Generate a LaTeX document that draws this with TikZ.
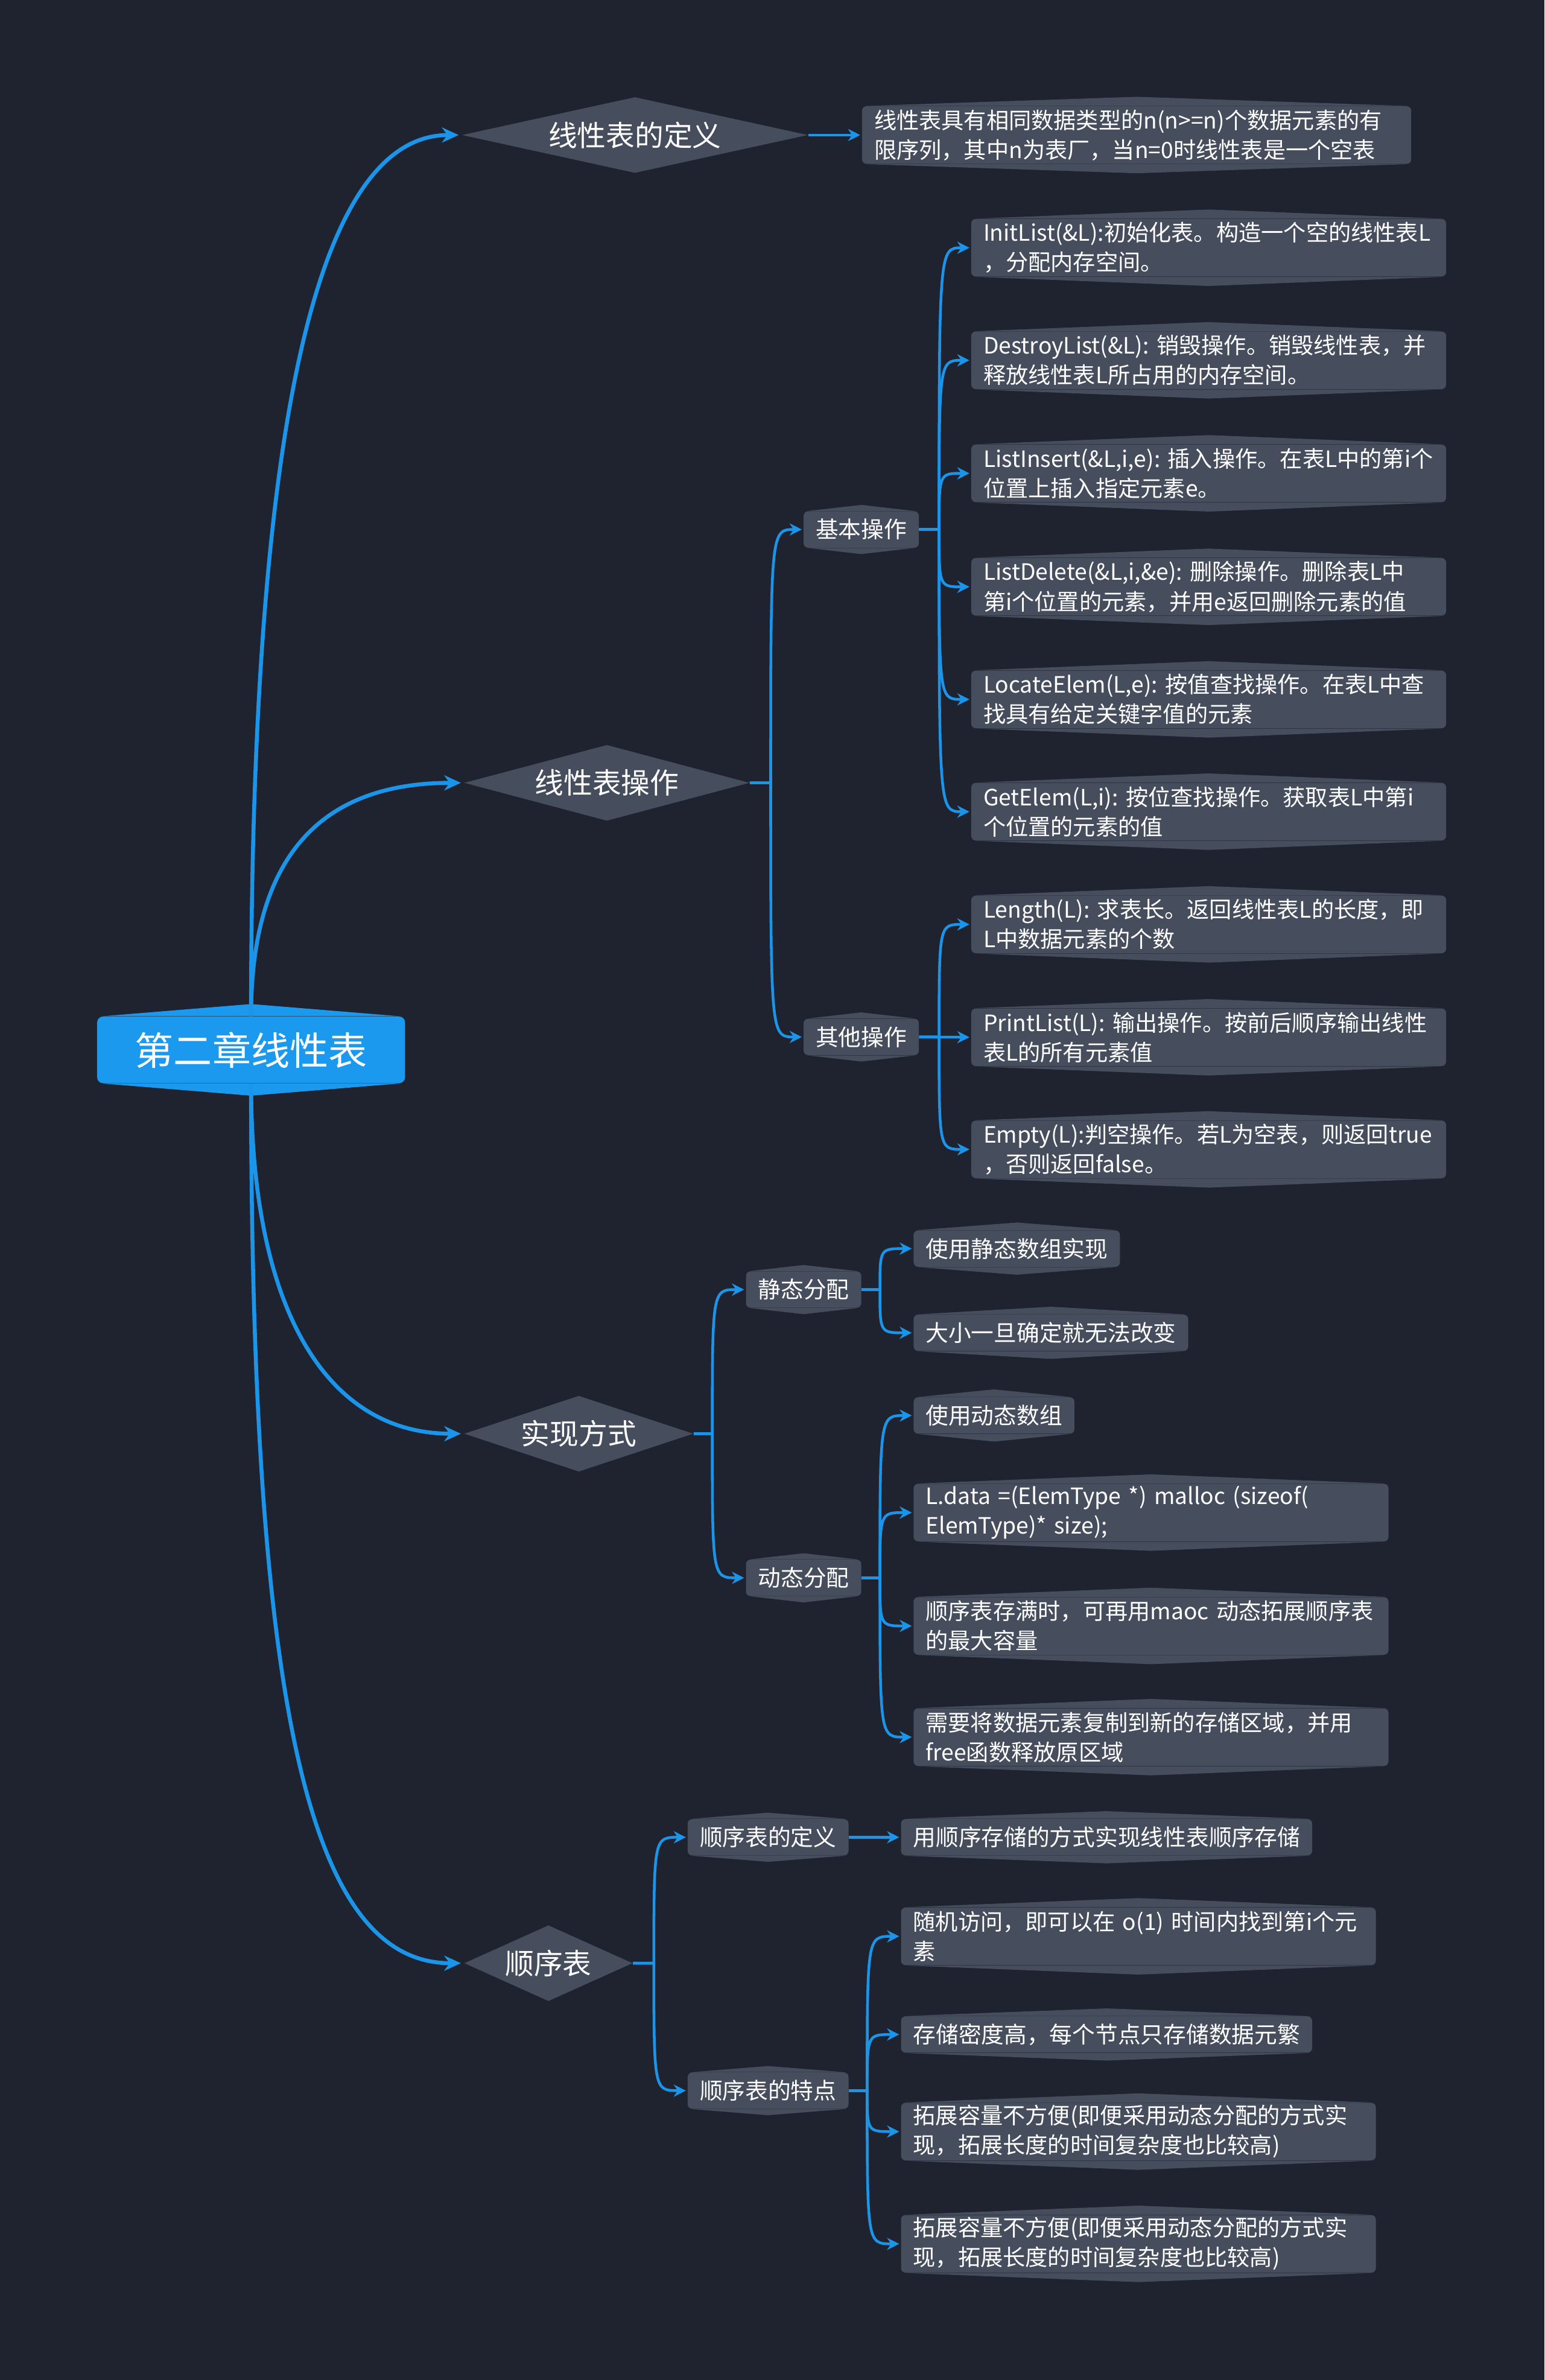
\documentclass[tikz,border=0pt]{standalone}
\usepackage{fontspec}
\setmainfont{Noto Sans CJK SC}
\usepackage{tikz}
\usetikzlibrary{arrows.meta, shapes.geometric}

\definecolor{bgcol}{HTML}{1F2330}
\definecolor{boxcol}{HTML}{464D5D}
\definecolor{linecol}{HTML}{1B95E9}
\definecolor{rootcol}{HTML}{1A99EF}

\begin{document}
\begin{tikzpicture}[
  x=1pt, y=-1pt,
  > = {Stealth[length=8pt, width=8pt]},
  every node/.style={text=white, inner sep=0pt},
  root/.style={fill=rootcol, rounded corners=4pt, minimum width=203pt,
               minimum height=44pt, font=\fontsize{25.5}{30}\selectfont},
  topic/.style={diamond, fill=boxcol, minimum height=50pt,
                font=\fontsize{19}{23}\selectfont},
  sub/.style={fill=boxcol, rounded corners=3pt, minimum height=24pt,
              inner xsep=8pt, font=\fontsize{15}{18}\selectfont},
  leaf/.style={sub, anchor=west},
  leaftwo/.style={leaf, minimum height=38pt, text width=297pt, align=left,
                  font=\fontsize{14.8}{19.5}\selectfont},
  link/.style={-{Stealth[length=11pt, width=10pt]}, draw=linecol,
               line width=2.6pt, shorten >=2pt},
  branch/.style={->, draw=linecol, line width=1.8pt, shorten >=1pt}
]
  % --- background ---
  \fill[bgcol] (0,0) rectangle (1018,1568.75);
  \useasboundingbox (0,0) rectangle (1018,1568.75);

  % --- root and main topics ---
  \node[root] (root) at (165.5,692) {第二章线性表};
  \node[topic, aspect=4.56, minimum width=228pt] (def)  at (418.5,89)   {线性表的定义};
  \node[topic, aspect=3.76, minimum width=188pt] (ops)  at (400,516)    {线性表操作};
  \node[topic, aspect=3.02, minimum width=151pt] (impl) at (381.5,945)  {实现方式};
  \node[topic, aspect=2.22, minimum width=111pt] (seq)  at (361.5,1294) {顺序表};

  % --- second level ---
  \node[sub] (basic)   at (567.7,349)   {基本操作};
  \node[sub] (other)   at (567.7,683.5) {其他操作};
  \node[sub] (static)  at (529.7,850)   {静态分配};
  \node[sub] (dyn)     at (529.7,1040)  {动态分配};
  \node[sub] (seqdef)  at (506.3,1211)  {顺序表的定义};
  \node[sub] (seqfeat) at (506.3,1378)  {顺序表的特点};

  % --- definition ---
  \node[leaftwo, text width=346pt] (defx) at (568,89)
    {线性表具有相同数据类型的n(n>=n)个数据元素的有\\限序列，其中n为表厂，当n=0时线性表是一个空表};

  % --- basic operations ---
  \node[leaftwo] (init)    at (640,163.3) {InitList(\&L):初始化表。构造一个空的线性表L\\，分配内存空间。};
  \node[leaftwo] (destroy) at (640,237.5) {DestroyList(\&L):~销毁操作。销毁线性表，并\\释放线性表L所占用的内存空间。};
  \node[leaftwo] (insert)  at (640,312)   {ListInsert(\&L,i,e):~插入操作。在表L中的第i个\\位置上插入指定元素e。};
  \node[leaftwo] (delete)  at (640,386.8) {ListDelete(\&L,i,\&e):~删除操作。删除表L中\\第i个位置的元素，并用e返回删除元素的值};
  \node[leaftwo] (locate)  at (640,461)   {LocateElem(L,e):~按值查找操作。在表L中查\\找具有给定关键字值的元素};
  \node[leaftwo] (getel)   at (640,535)   {GetElem(L,i):~按位查找操作。获取表L中第i\\个位置的元素的值};

  % --- other operations ---
  \node[leaftwo] (length) at (640,609.3) {Length(L):~求表长。返回线性表L的长度，即\\L中数据元素的个数};
  \node[leaftwo] (print)  at (640,683.7) {PrintList(L):~输出操作。按前后顺序输出线性\\表L的所有元素值};
  \node[leaftwo] (empty)  at (640,757.6) {Empty(L):判空操作。若L为空表，则返回true\\，否则返回false。};

  % --- allocation ---
  \node[leaf] (starr)  at (602,823)   {使用静态数组实现};
  \node[leaf] (stfix)  at (602,878.5) {大小一旦确定就无法改变};
  \node[leaf] (dyarr)  at (602,933)   {使用动态数组};
  \node[leaftwo] (dymal)  at (602,997)    {L.data~=(ElemType~*)~malloc~(sizeof(\\ElemType)*~size);};
  \node[leaftwo] (dyfull) at (602,1071.7) {顺序表存满时，可再用maoc~动态拓展顺序表\\的最大容量};
  \node[leaftwo] (dycopy) at (602,1145)   {需要将数据元素复制到新的存储区域，并用\\free函数释放原区域};

  % --- sequential list ---
  \node[leaf] (seqx) at (593.7,1211) {用顺序存储的方式实现线性表顺序存储};
  \node[leaftwo] (rand)  at (593.7,1276.3) {随机访问，即可以在~o(1)~时间内找到第i个元\\素};
  \node[leaf]    (dense) at (593.7,1341)   {存储密度高，每个节点只存储数据元繁};
  \node[leaftwo] (grow)  at (593.7,1405)   {拓展容量不方便(即便采用动态分配的方式实\\现，拓展长度的时间复杂度也比较高)};
  \node[leaftwo] (growb) at (593.7,1479)   {拓展容量不方便(即便采用动态分配的方式实\\现，拓展长度的时间复杂度也比较高)};

  % --- peaks on top and bottom edges ---
  \fill[rootcol] ([xshift=4pt]root.north west) -- ([yshift=8pt]root.north)
    -- ([xshift=-4pt]root.north east) -- cycle
    ([xshift=4pt]root.south west) -- ([yshift=-8pt]root.south)
    -- ([xshift=-4pt]root.south east) -- cycle;
  \foreach \n/\h in {basic/4, other/4, static/4, dyn/4, seqdef/4, seqfeat/4,
                     starr/5, stfix/5, dyarr/5, seqx/5, dense/5,
                     defx/6, init/6, destroy/6, insert/6, delete/6, locate/6,
                     getel/6, length/6, print/6, empty/6, dymal/6, dyfull/6,
                     dycopy/6, rand/6, grow/6, growb/6} {
    \fill[boxcol] ([xshift=3pt]\n.north west) -- ([yshift=\h pt]\n.north)
      -- ([xshift=-3pt]\n.north east) -- cycle
      ([xshift=3pt]\n.south west) -- ([yshift=-\h pt]\n.south)
      -- ([xshift=-3pt]\n.south east) -- cycle;
  }

  % --- root links ---
  \draw[link] (root.north) .. controls +(0,-370) and +(-100,0) .. (def.west);
  \draw[link] (root.north) .. controls +(0,-110) and +(-90,0) .. (ops.west);
  \draw[link] (root.south) .. controls +(0,150) and +(-90,0) .. (impl.west);
  \draw[link] (root.south) .. controls +(0,420) and +(-100,0) .. (seq.west);

  % --- definition link ---
  \draw[branch] (def.east) -- (defx.west);

  % --- operations ---
  \draw[branch] (ops.east) -- (508,516) .. controls (508,349) and (508,349) .. (basic.west);
  \draw[branch] (ops.east) -- (508,516) .. controls (508,683.5) and (508,683.5) .. (other.west);

  \draw[branch] (basic.east) -- (619,349) .. controls (619,163.3) and (619,163.3) .. (init.west);
  \draw[branch] (basic.east) -- (619,349) .. controls (619,237.5) and (619,237.5) .. (destroy.west);
  \draw[branch] (basic.east) -- (619,349) .. controls (619,312) and (619,312) .. (insert.west);
  \draw[branch] (basic.east) -- (619,349) .. controls (619,386.8) and (619,386.8) .. (delete.west);
  \draw[branch] (basic.east) -- (619,349) .. controls (619,461) and (619,461) .. (locate.west);
  \draw[branch] (basic.east) -- (619,349) .. controls (619,535) and (619,535) .. (getel.west);

  \draw[branch] (other.east) -- (619,683.5) .. controls (619,609.3) and (619,609.3) .. (length.west);
  \draw[branch] (other.east) -- (print.west);
  \draw[branch] (other.east) -- (619,683.5) .. controls (619,757.6) and (619,757.6) .. (empty.west);

  % --- implementation ---
  \draw[branch] (impl.east) -- (469.5,945) .. controls (469.5,850) and (469.5,850) .. (static.west);
  \draw[branch] (impl.east) -- (469.5,945) .. controls (469.5,1040) and (469.5,1040) .. (dyn.west);

  \draw[branch] (static.east) -- (580,850) .. controls (580,823) and (580,823) .. (starr.west);
  \draw[branch] (static.east) -- (580,850) .. controls (580,878.5) and (580,878.5) .. (stfix.west);

  \draw[branch] (dyn.east) -- (580,1040) .. controls (580,933) and (580,933) .. (dyarr.west);
  \draw[branch] (dyn.east) -- (580,1040) .. controls (580,997) and (580,997) .. (dymal.west);
  \draw[branch] (dyn.east) -- (580,1040) .. controls (580,1071.7) and (580,1071.7) .. (dyfull.west);
  \draw[branch] (dyn.east) -- (580,1040) .. controls (580,1145) and (580,1145) .. (dycopy.west);

  % --- sequential list ---
  \draw[branch] (seq.east) -- (431,1294) .. controls (431,1211) and (431,1211) .. (seqdef.west);
  \draw[branch] (seq.east) -- (431,1294) .. controls (431,1378) and (431,1378) .. (seqfeat.west);
  \draw[branch] (seqdef.east) -- (seqx.west);

  \draw[branch] (seqfeat.east) -- (571.6,1378) .. controls (571.6,1276.3) and (571.6,1276.3) .. (rand.west);
  \draw[branch] (seqfeat.east) -- (571.6,1378) .. controls (571.6,1341) and (571.6,1341) .. (dense.west);
  \draw[branch] (seqfeat.east) -- (571.6,1378) .. controls (571.6,1405) and (571.6,1405) .. (grow.west);
  \draw[branch] (seqfeat.east) -- (571.6,1378) .. controls (571.6,1479) and (571.6,1479) .. (growb.west);
\end{tikzpicture}
\end{document}
